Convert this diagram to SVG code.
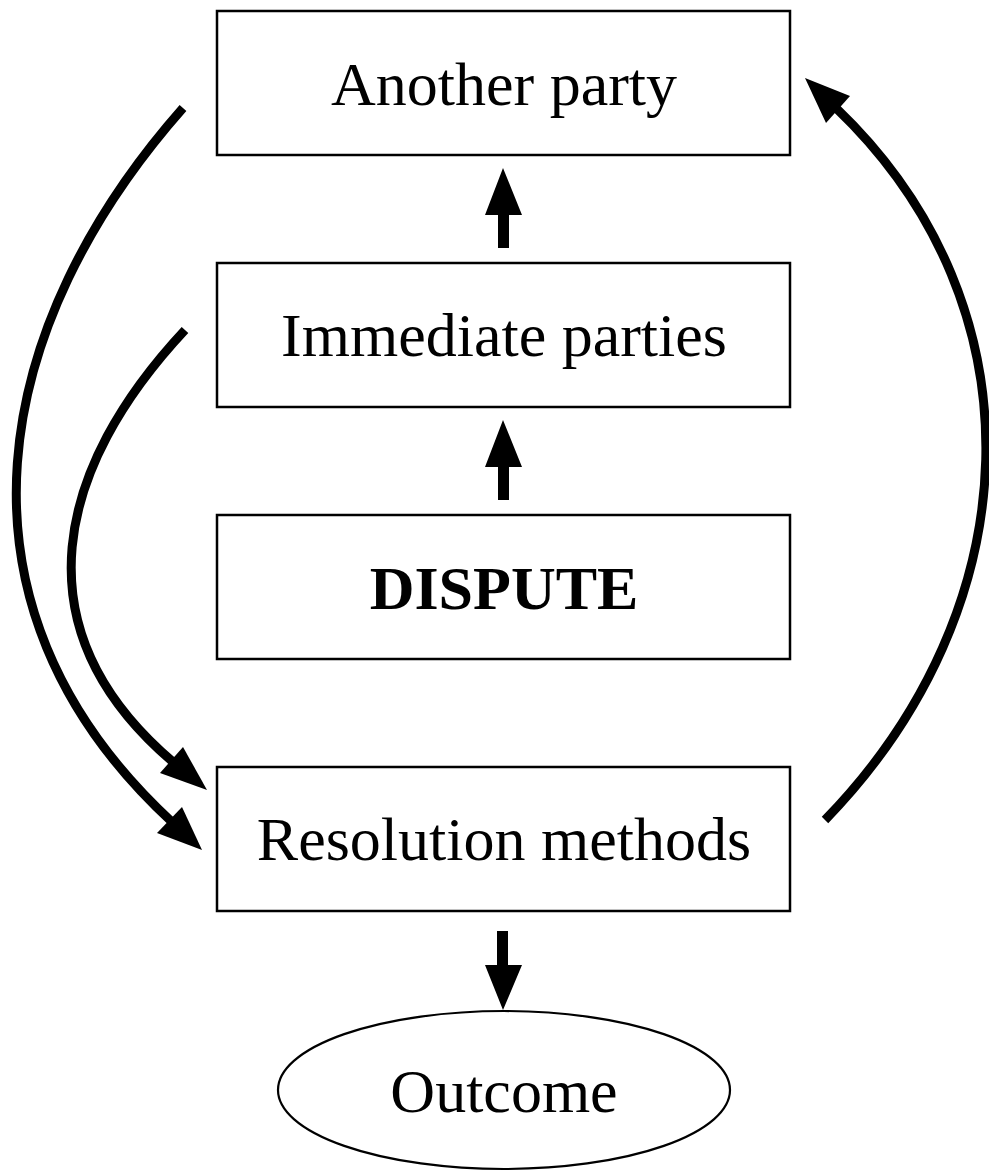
<svg xmlns="http://www.w3.org/2000/svg" width="989" height="1171" viewBox="0 0 989 1171">
<style>
.box{fill:#fff;stroke:#000;stroke-width:2.5}
.oval{fill:#fff;stroke:#000;stroke-width:2.2}
.lbl{font-family:"Liberation Serif","Times New Roman",serif;font-size:62px;fill:#000;text-anchor:middle}
.bold{font-weight:bold}
.curve{fill:none;stroke:#000;stroke-width:9}
.head{fill:#000;stroke:none}
</style>
<g id="connectors">
<path class="curve" d="M183,108 C-6,322 -66,602 172,822"/>
<polygon class="head" points="202,850 157,833 182,807"/>
<path class="curve" d="M185,330 C57,467 16,628 173,762"/>
<polygon class="head" points="207,790 160,773 183,747"/>
<path class="curve" d="M825,820 C1030,609 1045,308 836,108"/>
<polygon class="head" points="805,78 850,96 826,123"/>
<polygon class="head" points="498,248 498,215 485,215 503,168 522,215 509,215 509,248"/>
<polygon class="head" points="498,500 498,467 485,467 503,420 522,467 509,467 509,500"/>
<polygon class="head" points="497,931 497,965 485,965 503,1010 522,965 508,965 508,931"/>
</g>
<g id="another-party">
<rect class="box" x="217" y="11" width="573" height="144"/>
<text class="lbl" x="504" y="105">Another party</text>
</g>
<g id="immediate-parties">
<rect class="box" x="217" y="263" width="573" height="144"/>
<text class="lbl" x="504" y="356">Immediate parties</text>
</g>
<g id="dispute">
<rect class="box" x="217" y="515" width="573" height="144"/>
<text class="lbl bold" x="504" y="609">DISPUTE</text>
</g>
<g id="resolution-methods">
<rect class="box" x="217" y="767" width="573" height="144"/>
<text class="lbl" x="504" y="860">Resolution methods</text>
</g>
<g id="outcome">
<ellipse class="oval" cx="504" cy="1090" rx="226" ry="79"/>
<text class="lbl" x="504" y="1112">Outcome</text>
</g>
</svg>
